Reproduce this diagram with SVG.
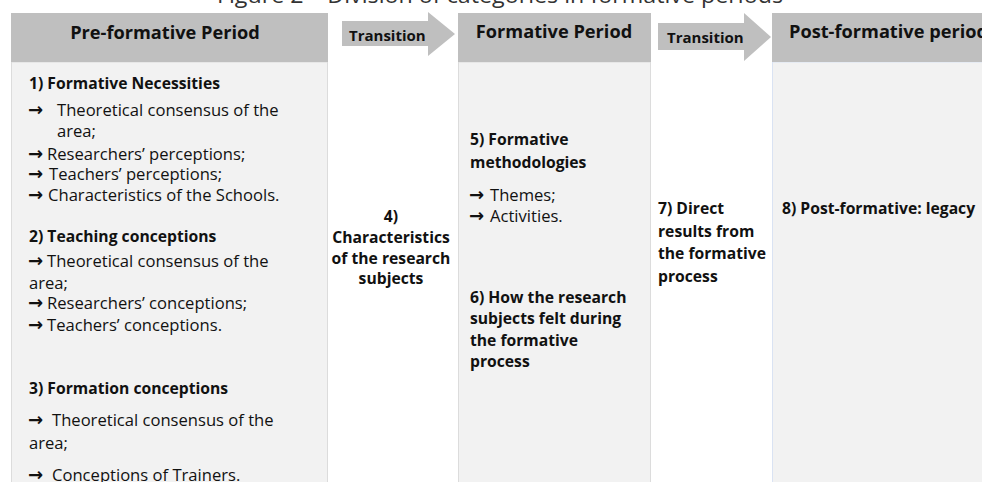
<svg xmlns="http://www.w3.org/2000/svg" width="982" height="482" viewBox="0 0 982 482">
<style>
  text { font-family: "Open Sans", "Liberation Sans", sans-serif; fill: #111; }
  .hdr { fill: #bfbfbf; }
  .body { fill: #f2f2f2; stroke: #dcdcdc; stroke-width: 1; }
  .arrow { fill: #bfbfbf; }
  .h { font-size: 18.2px; font-weight: bold; }
  .tr { font-size: 15px; font-weight: bold; }
  .b { font-size: 15.7px; font-weight: bold; }
  .r { font-size: 16.6px; }
  .ar { font-family: "DejaVu Sans", sans-serif; font-size: 18px; font-weight: bold; }
  .title { font-size: 22px; fill: #333; }
</style>
<rect width="982" height="482" fill="#ffffff"/>
<text class="title" x="217" y="3" textLength="566" lengthAdjust="spacingAndGlyphs">Figure 2 – Division of categories in formative periods</text>

<g id="pre-formative">
  <rect class="body" x="11.5" y="62" width="316" height="430"/>
  <rect class="hdr" x="11" y="13" width="317" height="49"/>
  <text class="h" x="165" y="39" text-anchor="middle">Pre-formative Period</text>
  <text class="b" x="29" y="89">1) Formative Necessities</text>
  <text class="ar" x="28" y="116">→</text><text class="r" x="57" y="116">Theoretical consensus of the</text>
  <text class="r" x="57" y="137">area;</text>
  <text class="ar" x="28" y="160">→</text><text class="r" x="47" y="160">Researchers’ perceptions;</text>
  <text class="ar" x="28" y="180">→</text><text class="r" x="49" y="180">Teachers’ perceptions;</text>
  <text class="ar" x="28" y="201">→</text><text class="r" x="48" y="201">Characteristics of the Schools.</text>
  <text class="b" x="29" y="242">2) Teaching conceptions</text>
  <text class="ar" x="28" y="267">→</text><text class="r" x="47" y="267">Theoretical consensus of the</text>
  <text class="r" x="29" y="289">area;</text>
  <text class="ar" x="28" y="309">→</text><text class="r" x="47" y="309">Researchers’ conceptions;</text>
  <text class="ar" x="28" y="331">→</text><text class="r" x="47" y="331">Teachers’ conceptions.</text>
  <text class="b" x="29" y="394">3) Formation conceptions</text>
  <text class="ar" x="28" y="426">→</text><text class="r" x="52" y="426">Theoretical consensus of the</text>
  <text class="r" x="29" y="449">area;</text>
  <text class="ar" x="28" y="481">→</text><text class="r" x="52" y="481">Conceptions of Trainers.</text>
</g>

<g id="transition-1">
  <polygon class="arrow" points="342,21 428,21 428,12 455,34 428,56 428,46 342,46"/>
  <text class="tr" x="349" y="41">Transition</text>
  <text class="b" x="391" y="222" text-anchor="middle">4)</text>
  <text class="b" x="391" y="243" text-anchor="middle">Characteristics</text>
  <text class="b" x="391" y="264" text-anchor="middle">of the research</text>
  <text class="b" x="391" y="284" text-anchor="middle">subjects</text>
</g>

<g id="formative">
  <rect class="body" x="458.5" y="62" width="192" height="430"/>
  <rect class="hdr" x="458" y="13" width="193" height="49"/>
  <text class="h" x="554" y="38" text-anchor="middle">Formative Period</text>
  <text class="b" x="470" y="145">5) Formative</text>
  <text class="b" x="470" y="168">methodologies</text>
  <text class="ar" x="469" y="201">→</text><text class="r" x="490" y="201">Themes;</text>
  <text class="ar" x="469" y="222">→</text><text class="r" x="490" y="222">Activities.</text>
  <text class="b" x="470" y="303">6) How the research</text>
  <text class="b" x="470" y="324">subjects felt during</text>
  <text class="b" x="470" y="346">the formative</text>
  <text class="b" x="470" y="367">process</text>
</g>

<g id="transition-2">
  <polygon class="arrow" points="658,23 744,23 744,13 771,37 744,61 744,50 658,50"/>
  <text class="tr" x="667" y="43">Transition</text>
  <text class="b" x="658" y="214">7) Direct</text>
  <text class="b" x="658" y="237">results from</text>
  <text class="b" x="658" y="259">the formative</text>
  <text class="b" x="658" y="282">process</text>
</g>

<g id="post-formative">
  <rect x="772.5" y="62" width="220" height="430" fill="#f2f2f2" stroke="#dae3f3" stroke-width="1"/>
  <rect class="hdr" x="772" y="13" width="220" height="49"/>
  <text class="h" x="789" y="38">Post-formative period</text>
  <text class="b" x="782" y="214">8) Post-formative: legacy</text>
</g>

<g id="connectors"></g>
</svg>
